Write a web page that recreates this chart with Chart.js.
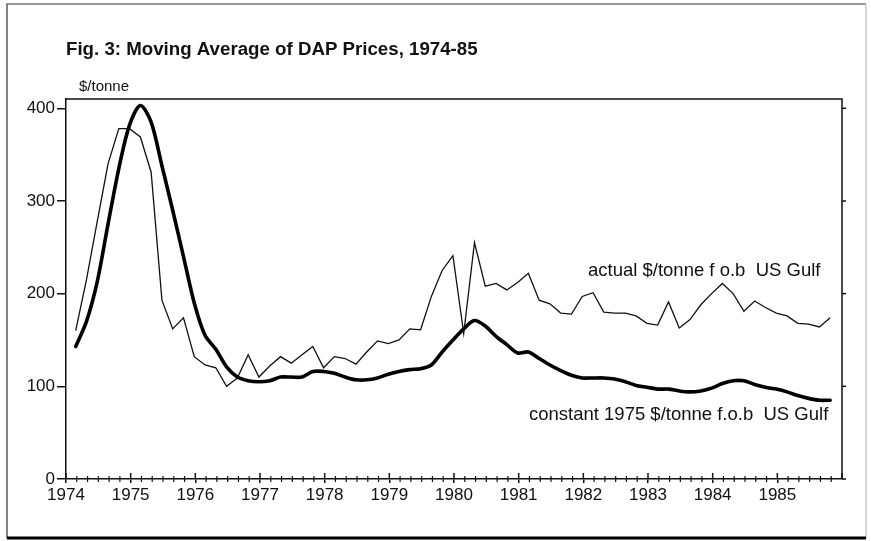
<!DOCTYPE html>
<html>
<head>
<meta charset="utf-8">
<title>Fig. 3: Moving Average of DAP Prices, 1974-85</title>
<script src="https://cdn.jsdelivr.net/npm/chart.js@4.4.1/dist/chart.umd.min.js"></script>
<style>
    html, body { margin: 0; padding: 0; background: #fff; }
    .wrap { position: relative; width: 871px; height: 541px; }
</style>
</head>
<body>
<div class="wrap"><canvas id="myChart"></canvas></div>
<script>
// data, one value every two months, $/tonne
const years = ['1974', '1975', '1976', '1977', '1978', '1979', '1980', '1981', '1982', '1983', '1984', '1985']
const yTicks = [0, 100, 200, 300, 400]

const actual = [
    160, 215, 278, 340, 378, 378, 369, 331, 193, 162, 174, 132,
    123, 120, 100, 109, 134, 110, 122, 132, 125, 134, 143, 120,
    132, 130, 124, 137, 149, 146, 150, 162, 161, 197, 225, 241,
    157, 255, 208, 211, 204, 212, 222, 193, 189, 179, 178, 197,
    201, 180, 179, 179, 176, 168, 166, 191, 163, 172, 188, 200,
    211, 200, 181, 192, 185, 179, 176, 168, 167, 164, 174
]

const constant1975 = [
    143, 170, 213, 275, 335, 382, 403, 385, 338, 290, 240, 190,
    155, 140, 121, 110, 106, 105, 106, 110, 110, 110, 116, 116,
    114, 110, 107, 107, 109, 113, 116, 118, 119, 123, 137, 150,
    162, 171, 165, 154, 145, 136, 137, 130, 123, 117, 112, 109,
    109, 109, 108, 105, 101, 99, 97, 97, 95, 94, 95, 98,
    103, 106, 106, 102, 99, 97, 94, 90, 87, 85, 85
]

const firstYear = 1974
const perYear = 6
const font = 'Liberation Sans, Arial, sans-serif'

// x position of each bi-monthly value
const toPoints = (arr) => arr.map((v, i) => ({ x: firstYear + (i + 0.9) / perYear, y: v }))

// frame, extra tick marks and the text labels
const extras = {
    id: 'extras',
    beforeDraw(chart) {
        const c = chart.ctx
        c.save()
        c.fillStyle = '#fff'
        c.fillRect(0, 0, chart.width, chart.height)
        c.restore()
    },
    afterDraw(chart) {
        const c = chart.ctx
        const a = chart.chartArea
        const xs = chart.scales.x
        const ys = chart.scales.y
        c.save()
        c.strokeStyle = '#111'
        c.lineWidth = 1.5

        // top and right border of the plot
        c.beginPath()
        c.moveTo(a.left, a.top)
        c.lineTo(a.right, a.top)
        c.lineTo(a.right, a.bottom)
        c.stroke()

        // right-hand ticks
        yTicks.forEach(v => {
            const py = ys.getPixelForValue(v)
            c.beginPath()
            c.moveTo(a.right, py)
            c.lineTo(a.right + 4, py)
            c.stroke()
        })

        // bottom ticks, every two months
        for (let i = 0; i <= 12 * perYear; i++) {
            const px = xs.getPixelForValue(firstYear + i / perYear)
            c.beginPath()
            if (i % perYear === 0) {
                c.moveTo(px, a.bottom - 6)
                c.lineTo(px, a.bottom)
            } else {
                c.lineWidth = 1.2
                c.moveTo(px, a.bottom - 3)
                c.lineTo(px, a.bottom + 3)
            }
            c.stroke()
            c.lineWidth = 1.5
        }

        // outer frame
        c.lineWidth = 1.2
        c.strokeStyle = '#333'
        c.beginPath()
        c.moveTo(7, 538)
        c.lineTo(7, 4)
        c.lineTo(866, 4)
        c.stroke()
        c.strokeStyle = '#bbb'
        c.beginPath()
        c.moveTo(866, 4)
        c.lineTo(866, 538)
        c.stroke()
        c.strokeStyle = '#000'
        c.lineWidth = 3
        c.beginPath()
        c.moveTo(7, 538)
        c.lineTo(866, 538)
        c.stroke()

        // texts
        c.fillStyle = '#111'
        c.textBaseline = 'middle'
        c.textAlign = 'left'
        c.font = '15px ' + font
        c.fillText('$/tonne', 79, 87)
        c.font = '18.5px ' + font
        c.fillText('actual $/tonne f o.b  US Gulf', 588, 271)
        c.fillText('constant 1975 $/tonne f.o.b  US Gulf', 529, 415)
        c.restore()
    }
}

const ctx = document.getElementById('myChart')

new Chart(ctx, {
    type: 'line',
    data: {
        datasets: [{
            label: 'actual $/tonne f o.b US Gulf',
            data: toPoints(actual),
            borderColor: '#111',
            borderWidth: 1.3,
            pointRadius: 0,
            tension: 0
        },
        {
            label: 'constant 1975 $/tonne f.o.b US Gulf',
            data: toPoints(constant1975),
            borderColor: '#000',
            borderWidth: 3.6,
            pointRadius: 0,
            tension: 0.3,
            borderCapStyle: 'round',
            borderJoinStyle: 'round'
        }],
    },
    options: {
        responsive: true,
        maintainAspectRatio: false,
        animation: false,
        devicePixelRatio: 1,
        layout: {
            padding: { left: 0, right: 29, top: 0, bottom: 0 }
        },
        scales: {
            x: {
                type: 'linear',
                min: 1974,
                max: 1986,
                afterFit: (scale) => { scale.height = 62 },
                afterBuildTicks: (scale) => { scale.ticks = years.map(y => ({ value: Number(y) })) },
                grid: {
                    drawOnChartArea: false,
                    tickLength: 4,
                    color: '#111',
                    lineWidth: 1.5
                },
                border: { color: '#111', width: 1.5 },
                ticks: {
                    autoSkip: false,
                    maxRotation: 0,
                    padding: 2,
                    color: '#111',
                    font: { family: font, size: 17 },
                    callback: (v) => String(v)
                }
            },
            y: {
                min: 0,
                max: 410,
                afterFit: (scale) => { scale.width = 66 },
                afterBuildTicks: (scale) => { scale.ticks = yTicks.map(v => ({ value: v })) },
                grid: {
                    drawOnChartArea: false,
                    tickLength: 9,
                    color: '#111',
                    lineWidth: 1.5
                },
                border: { color: '#111', width: 1.5 },
                ticks: {
                    padding: 2,
                    color: '#111',
                    font: { family: font, size: 17 },
                    callback: (v) => String(v)
                }
            }
        },
        plugins: {
            legend: { display: false },
            tooltip: { enabled: false },
            title: {
                display: true,
                text: 'Fig. 3: Moving Average of DAP Prices, 1974-85',
                align: 'start',
                fullSize: false,
                color: '#111',
                font: { family: font, size: 18.7, weight: 'bold', lineHeight: 1 },
                padding: { top: 41, bottom: 39.3 }
            }
        }
    },
    plugins: [extras]
});
</script>
</body>
</html>
